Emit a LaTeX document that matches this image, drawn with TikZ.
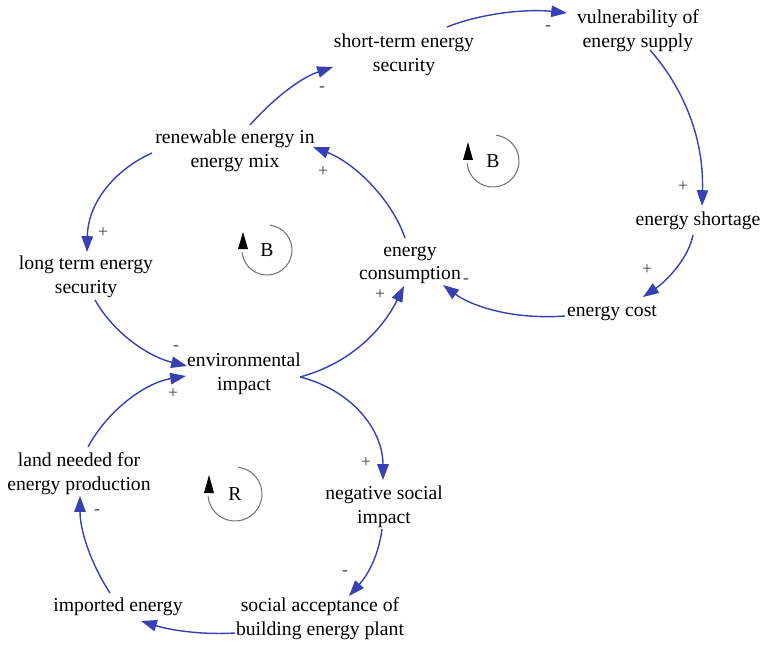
\documentclass[tikz,border=0pt]{standalone}
\usepackage{fontspec}
\setmainfont{Liberation Serif}
\usetikzlibrary{arrows.meta,calc}
\definecolor{linkblue}{RGB}{55,65,180}
\definecolor{loopgray}{RGB}{115,115,115}
\begin{document}
\begin{tikzpicture}[x=0.02cm,y=-0.02cm,
  var/.style={align=center,inner sep=0pt,font=\fontsize{11.2}{13.6}\selectfont},
  link/.style={draw=linkblue,line width=0.8pt,-{Triangle[length=9pt,width=6.5pt]}},
  sgn/.style={font=\fontsize{10}{11}\selectfont,text=black!75,inner sep=0pt},
  loopc/.style={draw=loopgray,line width=0.6pt},
  looplbl/.style={font=\fontsize{11.2}{13.6}\selectfont,inner sep=0pt},
  looptip/.style={fill=black}
  ]
\useasboundingbox (0,0) rectangle (763,645);

% variables
\node[var] (st)   at (404,55)  {short-term energy\\security};
\node[var] (vul)  at (638,31)  {vulnerability of\\energy supply};
\node[var] (ren)  at (235,151) {renewable energy in\\energy mix};
\node[var] (es)   at (698,221) {energy shortage};
\node[var] (lt)   at (86,277)  {long term energy\\security};
\node[var] (ec)   at (410,265) {energy\\consumption};
\node[var] (cost) at (612,313) {energy cost};
\node[var] (env)  at (244,374) {environmental\\impact};
\node[var] (land) at (79,474)  {land needed for\\energy production};
\node[var] (neg)  at (384,507) {negative social\\impact};
\node[var] (imp)  at (118,607) {imported energy};
\node[var] (soc)  at (320,619) {social acceptance of\\building energy plant};

% links
\draw[link] ($(ren)+(15,-26)$) .. controls (272,100) and (300,78) .. ($(st)+(-71,12)$);
\draw[link] ($(st)+(43,-28)$) .. controls (485,12) and (530,9) .. ($(vul)+(-71,-18)$);
\draw[link] ($(vul)+(12,19)$) .. controls (685,90) and (704,140) .. ($(es)+(4,-15)$);
\draw[link] ($(es)+(-5,14)$) .. controls (688,260) and (665,282) .. ($(cost)+(31,-16)$);
\draw[link] ($(cost)+(-47,3)$) .. controls (510,320) and (470,305) .. ($(ec)+(33,20)$);
\draw[link] ($(ec)+(-5,-27)$) .. controls (392,200) and (355,163) .. ($(ren)+(78,-4)$);
\draw[link] ($(ren)+(-83,2)$) .. controls (118,168) and (88,200) .. ($(lt)+(1,-25)$);
\draw[link] ($(lt)+(9,23)$) .. controls (115,335) and (150,357) .. ($(env)+(-57,-8)$);
\draw[link] ($(land)+(9,-27)$) .. controls (108,410) and (145,383) .. ($(env)+(-58,2)$);
\draw[link] ($(env)+(56,3)$) .. controls (355,362) and (385,325) .. ($(ec)+(-6,21)$);
\draw[link] ($(env)+(56,3)$) .. controls (352,390) and (383,430) .. ($(neg)+(-1,-27)$);
\draw[link] ($(neg)+(-2,22)$) .. controls (378,560) and (365,578) .. ($(soc)+(29,-23)$);
\draw[link] ($(soc)+(-85,14)$) .. controls (200,635) and (170,630) .. ($(imp)+(23,14)$);
\draw[link] ($(imp)+(-8,-14)$) .. controls (90,562) and (80,530) .. ($(land)+(1,22)$);

% polarity signs
\node[sgn] (s1)  at (322,89)  {-};
\node[sgn] (s2)  at (548,28)  {-};
\node[sgn] (s3)  at (683,187) {+};
\node[sgn] (s4)  at (647,270) {+};
\node[sgn] (s5)  at (466,281) {-};
\node[sgn] (s6)  at (323,172) {+};
\node[sgn] (s7)  at (103,233) {+};
\node[sgn] (s8)  at (176,348) {-};
\node[sgn] (s9)  at (173,394) {+};
\node[sgn] (s10) at (380,295) {+};
\node[sgn] (s11) at (366,463) {+};
\node[sgn] (s12) at (345,573) {-};
\node[sgn] (s14) at (97,512)  {-};

% loop indicators
\node[looplbl] (l1) at (267,250) {B};
\draw[loopc] ($(l1)+(-83:25)$) arc[start angle=-83,end angle=175,radius=25];
\fill[looptip] ($(l1)+(-24,-18)$) -- ($(l1)+(-29,-1)$) -- ($(l1)+(-19,-1)$) -- cycle;

\node[looplbl] (l2) at (493,161) {B};
\draw[loopc] ($(l2)+(-83:26)$) arc[start angle=-83,end angle=175,radius=26];
\fill[looptip] ($(l2)+(-25,-19)$) -- ($(l2)+(-30,-1)$) -- ($(l2)+(-20,-1)$) -- cycle;

\node[looplbl] (l3) at (235,494) {R};
\draw[loopc] ($(l3)+(-83:27)$) arc[start angle=-83,end angle=175,radius=27];
\fill[looptip] ($(l3)+(-26,-19)$) -- ($(l3)+(-31,-1)$) -- ($(l3)+(-21,-1)$) -- cycle;
\end{tikzpicture}
\end{document}
